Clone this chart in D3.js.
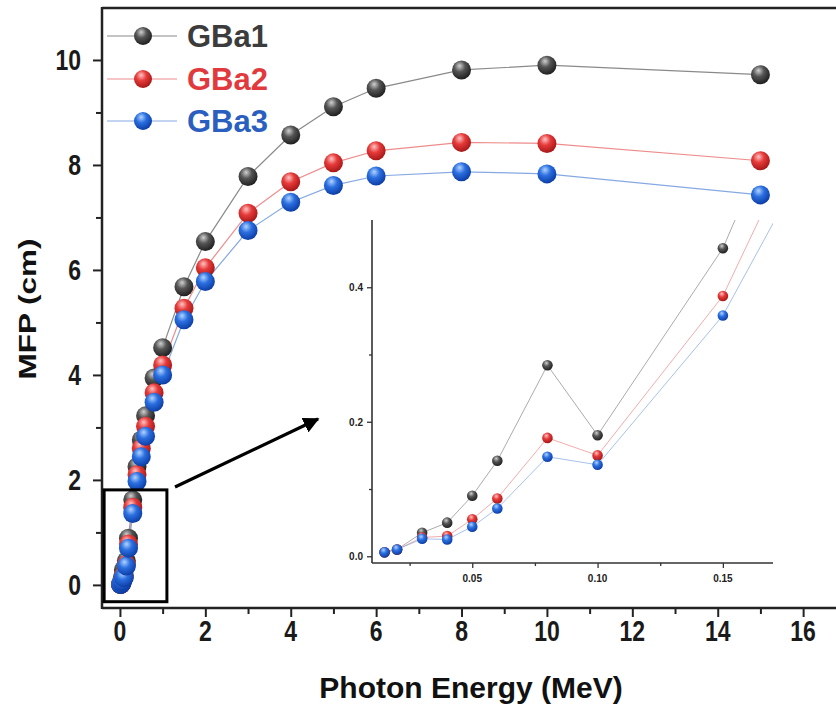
<!DOCTYPE html>
<html><head><meta charset="utf-8">
<script src="https://cdn.jsdelivr.net/npm/d3@7"></script>
<style>
body{margin:0;background:#fff}
svg{display:block}
text{font-family:"Liberation Sans",Arial,Helvetica,sans-serif;font-weight:bold}
</style>
</head><body>
<svg id="c" width="836" height="710"></svg>
<script>
// ---------- data ----------
const energy = [0.015,0.02,0.03,0.04,0.05,0.06,0.08,0.1,0.15,0.2,0.3,0.4,0.5,0.6,0.8,1,1.5,2,3,4,5,6,8,10,15];
const seriesNames = ["GBa1","GBa2","GBa3"];
const gba1 = [0.006,0.010,0.035,0.050,0.090,0.142,0.284,0.180,0.458,0.89,1.62,2.25,2.76,3.22,3.94,4.52,5.68,6.54,7.78,8.57,9.11,9.46,9.81,9.90,9.72];
const gba2 = [0.006,0.010,0.028,0.030,0.055,0.086,0.176,0.150,0.387,0.78,1.48,2.10,2.60,3.02,3.66,4.19,5.27,6.04,7.08,7.68,8.04,8.27,8.43,8.41,8.08];
const gba3 = [0.006,0.010,0.026,0.025,0.044,0.071,0.148,0.136,0.358,0.70,1.36,1.97,2.44,2.83,3.48,4.00,5.05,5.78,6.75,7.29,7.61,7.79,7.87,7.83,7.43];
const xTicks = [0,2,4,6,8,10,12,14,16];
const xMinor = [1,3,5,7,9,11,13,15];
const yTicks = [0,2,4,6,8,10];
const yMinor = [1,3,5,7,9];
const insetXTicks = [0.05,0.10,0.15];
const insetXMinor = [0.025,0.075,0.125];
const insetYTicks = [0.0,0.2,0.4];
const insetYMinor = [0.1,0.3];
const xTitle = "Photon Energy (MeV)";
const yTitle = "MFP (cm)";

// ---------- styles ----------
const lineCol = ["#8a8a8a","#ee8c8c","#86a9e3"];
const textCol = ["#3c3c3c","#e13a3e","#2b5fbf"];
const grad = [["#d0d0d0","#555555","#202020"],["#ffc4c4","#e63a3a","#a81818"],["#b0d4ff","#2b6fe0","#0d3ea6"]];

const allSeries = [gba1,gba2,gba3];
const svg = d3.select("#c");
const defs = svg.append("defs");
grad.forEach((g,i)=>{
  const rg = defs.append("radialGradient").attr("id","sph"+i)
    .attr("cx","40%").attr("cy","35%").attr("r","65%").attr("fx","40%").attr("fy","28%");
  rg.append("stop").attr("offset","0%").attr("stop-color",g[0]);
  rg.append("stop").attr("offset","45%").attr("stop-color",g[1]);
  rg.append("stop").attr("offset","100%").attr("stop-color",g[2]);
});
defs.append("marker").attr("id","arrow").attr("viewBox","0 0 10 10")
  .attr("refX",9).attr("refY",5).attr("markerWidth",5).attr("markerHeight",5)
  .attr("markerUnits","strokeWidth").attr("orient","auto")
  .append("path").attr("d","M0,0 L10,5 L0,10 Z").attr("fill","#000");

// ---------- main scales ----------
const x = d3.scaleLinear().domain([-0.42,16.77]).range([102,836]);
const y = d3.scaleLinear().domain([-0.44,10.99]).range([608,8]);

// frame
const axCol = "#222";
svg.append("line").attr("x1",102).attr("x2",836).attr("y1",8).attr("y2",8).attr("stroke",axCol).attr("stroke-width",2.5);

// axes ticks
const gx = svg.append("g").attr("transform","translate(0,608)");
gx.call(d3.axisBottom(x).tickValues(xTicks).tickSize(9).tickFormat(""));
gx.append("g").call(d3.axisBottom(x).tickValues(xMinor).tickSize(6).tickFormat(""));
gx.selectAll("path.domain").remove();
gx.selectAll("line").attr("stroke",axCol).attr("stroke-width",2);
const gy = svg.append("g").attr("transform","translate(102,0)");
gy.call(d3.axisLeft(y).tickValues(yTicks).tickSize(9).tickFormat(""));
gy.append("g").call(d3.axisLeft(y).tickValues(yMinor).tickSize(6).tickFormat(""));
gy.selectAll("path.domain").remove();
gy.selectAll("line").attr("stroke",axCol).attr("stroke-width",2);
svg.append("line").attr("x1",102).attr("x2",836).attr("y1",608).attr("y2",608).attr("stroke",axCol).attr("stroke-width",2.5);
svg.append("line").attr("x1",102).attr("x2",102).attr("y1",7).attr("y2",609).attr("stroke",axCol).attr("stroke-width",2.5);

// tick labels
xTicks.forEach(v=>{
  svg.append("text").attr("text-anchor","middle").attr("font-size",23).attr("fill","#1a1a1a")
    .attr("transform",`translate(${x(v)},641) scale(1,1.25)`).text(v);
});
yTicks.forEach(v=>{
  svg.append("text").attr("text-anchor","end").attr("font-size",23).attr("fill","#1a1a1a")
    .attr("transform",`translate(81,${y(v)+10.3}) scale(1,1.25)`).text(v);
});
// titles
svg.append("text").attr("text-anchor","middle").attr("font-size",30).attr("fill","#111")
  .attr("x",471).attr("y",698).text(xTitle);
svg.append("text").attr("text-anchor","middle").attr("font-size",23).attr("fill","#111")
  .attr("transform",`translate(36,309) rotate(-90) scale(1.37,1)`).text(yTitle);

// lines + markers
const line = d3.line().x(d=>x(d[0])).y(d=>y(d[1]));
allSeries.forEach((s,i)=>{
  svg.append("path").datum(energy.map((e,k)=>[e,s[k]])).attr("d",line)
    .attr("fill","none").attr("stroke",lineCol[i]).attr("stroke-width",1.2);
});
allSeries.forEach((s,i)=>{
  svg.append("g").selectAll("circle").data(energy.map((e,k)=>[e,s[k]])).join("circle")
    .attr("cx",d=>x(d[0])).attr("cy",d=>y(d[1])).attr("r",9.5).attr("fill",`url(#sph${i})`);
});

// legend
const legY = [36,79,121];
seriesNames.forEach((n,i)=>{
  svg.append("line").attr("x1",107).attr("x2",177).attr("y1",legY[i]).attr("y2",legY[i]).attr("stroke",lineCol[i]).attr("stroke-width",1.2);
  svg.append("circle").attr("cx",143).attr("cy",legY[i]).attr("r",9).attr("fill",`url(#sph${i})`);
  svg.append("text").attr("x",187).attr("y",legY[i]+11).attr("font-size",31).attr("fill",textCol[i]).text(n);
});

// zoom box + arrow
svg.append("rect").attr("x",x(-0.37)).attr("y",y(1.81)).attr("width",x(1.1)-x(-0.37)).attr("height",y(-0.32)-y(1.81))
  .attr("fill","none").attr("stroke","#000").attr("stroke-width",3);
svg.append("line").attr("x1",175).attr("y1",487).attr("x2",318).attr("y2",419)
  .attr("stroke","#000").attr("stroke-width",3.2).attr("marker-end","url(#arrow)");

// ---------- inset ----------
const ix = d3.scaleLinear().domain([0.01,0.17]).range([372,773]);
const iy = d3.scaleLinear().domain([-0.01,0.5]).range([563,220]);
defs.append("clipPath").attr("id","iclip").append("rect")
  .attr("x",372).attr("y",220).attr("width",401).attr("height",343);
const ins = svg.append("g");
const igx = ins.append("g").attr("transform","translate(0,563)");
igx.call(d3.axisBottom(ix).tickValues(insetXTicks).tickSize(5).tickFormat(""));
igx.append("g").call(d3.axisBottom(ix).tickValues(insetXMinor).tickSize(3).tickFormat(""));
igx.selectAll("path.domain").remove();
igx.selectAll("line").attr("stroke","#333").attr("stroke-width",1.3);
const igy = ins.append("g").attr("transform","translate(372,0)");
igy.call(d3.axisLeft(iy).tickValues(insetYTicks).tickSize(5).tickFormat(""));
igy.append("g").call(d3.axisLeft(iy).tickValues(insetYMinor).tickSize(3).tickFormat(""));
igy.selectAll("path.domain").remove();
igy.selectAll("line").attr("stroke","#333").attr("stroke-width",1.3);
ins.append("line").attr("x1",372).attr("x2",773).attr("y1",563).attr("y2",563).attr("stroke","#333").attr("stroke-width",1.6);
ins.append("line").attr("x1",372).attr("x2",372).attr("y1",220).attr("y2",563).attr("stroke","#333").attr("stroke-width",1.6);
insetXTicks.forEach(v=>{
  ins.append("text").attr("text-anchor","middle").attr("font-size",10).attr("fill","#222")
    .attr("x",ix(v)).attr("y",582).text(d3.format(".2f")(v));
});
insetYTicks.forEach(v=>{
  ins.append("text").attr("text-anchor","end").attr("font-size",10).attr("fill","#222")
    .attr("x",363).attr("y",iy(v)+4).text(d3.format(".1f")(v));
});
const iline = d3.line().x(d=>ix(d[0])).y(d=>iy(d[1]));
const clipG = ins.append("g").attr("clip-path","url(#iclip)");
allSeries.forEach((s,i)=>{
  clipG.append("path").datum(energy.map((e,k)=>[e,s[k]])).attr("d",iline)
    .attr("fill","none").attr("stroke",lineCol[i]).attr("stroke-width",0.9).attr("stroke-opacity",0.8);
});
allSeries.forEach((s,i)=>{
  ins.append("g").selectAll("circle").data(energy.map((e,k)=>[e,s[k]]).filter(d=>d[0]<=0.17)).join("circle")
    .attr("cx",d=>ix(d[0])).attr("cy",d=>iy(d[1])).attr("r",5.3).attr("fill",`url(#sph${i})`);
});
</script>
</body></html>
